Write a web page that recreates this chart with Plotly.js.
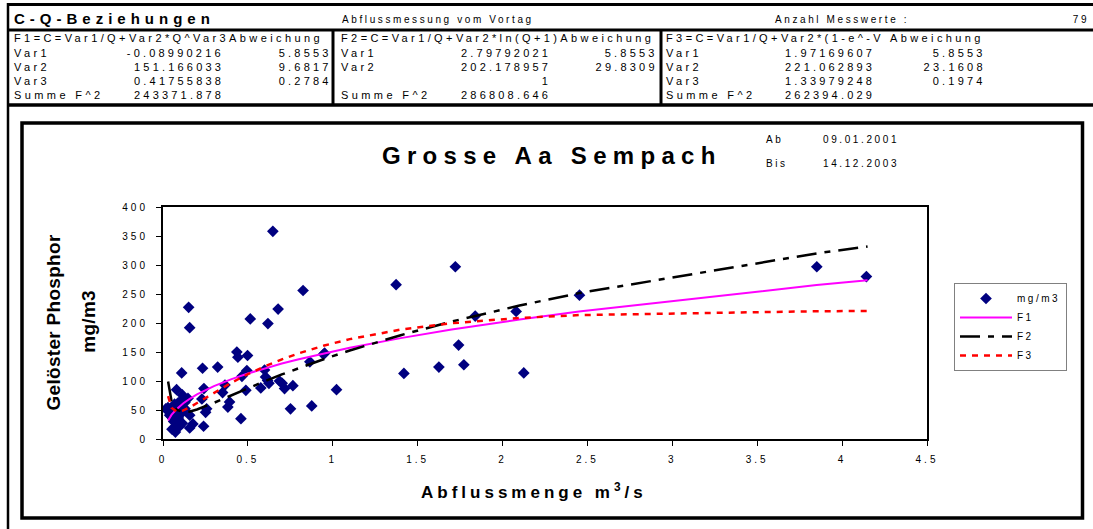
<!DOCTYPE html>
<html><head><meta charset="utf-8">
<script src="https://cdn.plot.ly/plotly-3.0.1.min.js"></script>
<style>
html,body{margin:0;padding:0;background:#fff;}
#chart{width:1093px;height:529px;}
#chart .xtick text,#chart .ytick text{letter-spacing:3px;}
.legendtext{letter-spacing:2.5px;}
</style>
</head><body><div id="chart"></div>
<script>
// ---------- data ----------
const qObs = [0.647,0.151,0.157,0.514,0.618,0.678,0.825,1.373,0.435,0.441,0.498,0.110,0.233,0.322,0.494,0.465,0.598,0.604,0.616,0.624,
  0.686,0.702,0.716,0.765,0.576,0.488,0.365,0.351,0.392,0.382,0.459,0.751,0.876,1.022,0.865,0.945,0.952,0.241,0.229,0.257,
  0.251,0.239,0.176,0.157,0.157,0.080,0.114,0.108,0.129,0.147,0.088,0.059,0.029,0.016,0.045,0.039,0.073,0.114,0.090,0.063,
  0.114,0.098,0.053,0.073,0.049,1.722,1.839,2.080,2.453,1.741,1.625,1.772,1.419,2.125,3.851,4.143,0.100,0.130,0.068];
const cObs = [358,227,192,207,199,224,256,266,150,141,144,114,122,124,118,108,119,107,101,96,
  100,96,87,92,88,84,93,80,64,55,35,52,57,85,133,146,148,87,69,52,
  46,22,26,19,41,85,76,67,63,70,62,55,54,52,47,41,46,46,36,30,
  27,22,17,12,39,297,212,220,248,162,124,128,113,114,297,280,58,52,60];

const qFit = [0.03,0.05,0.08,0.12,0.16,0.2,0.3,0.4,0.5,0.6,0.7,0.8,0.95,1.1,1.4,1.7,2.1,2.45,3.85,4.15];
const f1Fit = [32,41.5,51.5,61.6,69.8,76.8,91.1,102.9,113.0,122.0,130.1,137.6,147.9,157.2,173.9,188.6,206.0,219.8,265.4,273.9];
const f2Fit = [99,66,50.5,46.2,47.5,50.9,62.4,75.0,87.6,99.7,111.3,122.3,138.0,152.5,179.0,202.5,230.1,251.5,320.0,332.0];
const f3Fit = [74,54,47.1,49.3,55.0,61.8,79.7,96.6,111.9,125.4,137.3,147.8,161.2,172.2,188.6,199.6,208.7,213.6,220.3,220.7];

const seriesNames = ['mg/m3','F1','F2','F3'];
const chartTitle = 'Grosse Aa Sempach';
const xTitle = 'Abflussmenge m<sup>3</sup>/s';
const yTitle1 = 'Gelöster Phosphor';
const yTitle2 = 'mg/m3';
const headerTitle = 'C-Q-Beziehungen';
const headerSub = 'Abflussmessung vom Vortag';
const headerCountLabel = 'Anzahl Messwerte :';
const headerCount = '79';
const dateLabels = ['Ab','Bis'];
const dateValues = ['09.01.2001','14.12.2003'];

const fitHeads = ['F1=C=Var1/Q+Var2*Q^Var3Abweichung','F2=C=Var1/Q+Var2*ln(Q+1)Abweichung','F3=C=Var1/Q+Var2*(1-e^-V Abweichung'];
const rowLabels = [['Var1','Var2','Var3','Summe F^2'],['Var1','Var2','','Summe F^2'],['Var1','Var2','Var3','Summe F^2']];
const paramVals = [['-0.08990216','151.166033','0.41755838','243371.878'],
                   ['2.79792021','202.178957','1','286808.646'],
                   ['1.97169607','221.062893','1.33979248','262394.029']];
const devVals = [['5.8553','9.6817','0.2784',''],['5.8553','29.8309','',''],['5.8553','23.1608','0.1974','']];

// ---------- layout helpers ----------
const FONT = 'Liberation Sans, Arial, sans-serif';
const L = 163, R = 927, T = 207, B = 439;
const px = x => (x - L) / (R - L);
const py = y => (B - y) / (B - T);
const annotations = [], spacing = [], shapes = [];
function txt(text, x, y, size, o) {
  o = o || {};
  annotations.push({text: text, xref: 'paper', yref: 'paper', x: px(x), y: py(y),
    xanchor: o.anchor || 'left', yanchor: 'middle', align: o.anchor === 'right' ? 'right' : (o.anchor === 'center' ? 'center' : 'left'),
    showarrow: false, textangle: o.angle || 0, borderpad: 0,
    font: {family: FONT, size: size, color: '#000', weight: o.bold ? 'bold' : 'normal'}});
  spacing.push(o.ls || 0);
}
function line(x0, y0, x1, y1, w) {
  shapes.push({type: 'line', xref: 'paper', yref: 'paper', x0: px(x0), y0: py(y0), x1: px(x1), y1: py(y1),
    line: {color: '#000', width: w}});
}
function rect(x0, y0, x1, y1, w) {
  shapes.push({type: 'rect', xref: 'paper', yref: 'paper', x0: px(x0), y0: py(y0), x1: px(x1), y1: py(y1),
    line: {color: '#000', width: w}, fillcolor: 'rgba(0,0,0,0)'});
}

// header frame
line(7, 4.5, 1093, 4.5, 3);
line(7, 30, 1093, 30, 3);
line(7, 105, 1093, 105, 3.5);
line(8, 3, 8, 529, 2.5);
line(333, 30, 333, 105, 3);
line(661, 30, 661, 105, 3);
// chart frame
rect(22, 123, 1082.5, 518, 3.5);

// header text
txt(headerTitle, 13, 18.5, 15, {bold: true, ls: 5});
txt(headerSub, 341, 19, 10, {ls: 2.6});
txt(headerCountLabel, 774, 19, 10, {ls: 2.6});
txt(headerCount, 1091, 19, 10, {anchor: 'right', ls: 2.6});

const boxLabelX = [13, 340, 665];
const boxValR = [225, 552, 876];
const boxDevR = [333, 659, 987];
const rowY = [38, 52.5, 67, 81, 95];
for (let b = 0; b < 3; b++) {
  txt(fitHeads[b], boxLabelX[b], rowY[0], 11, {ls: 3.4});
  for (let r = 0; r < 4; r++) {
    if (rowLabels[b][r]) txt(rowLabels[b][r], boxLabelX[b], rowY[r + 1], 11, {ls: 3.4});
    if (paramVals[b][r]) txt(paramVals[b][r], boxValR[b], rowY[r + 1], 11, {anchor: 'right', ls: 3.2});
    if (devVals[b][r]) txt(devVals[b][r], boxDevR[b], rowY[r + 1], 11, {anchor: 'right', ls: 3.2});
  }
}

// chart texts
txt(chartTitle, 381, 155, 24, {bold: true, ls: 6.3});
txt(dateLabels[0], 765, 139, 10, {ls: 2.6});
txt(dateLabels[1], 765, 163, 10, {ls: 2.6});
txt(dateValues[0], 822, 139, 10, {ls: 2.6});
txt(dateValues[1], 822, 163, 10, {ls: 2.6});
txt(xTitle, 420, 491, 17, {bold: true, ls: 4});
txt(yTitle1, 53, 322, 19, {bold: true, anchor: 'center', angle: -90, ls: 0.3});
txt(yTitle2, 88, 322, 19, {bold: true, anchor: 'center', angle: -90, ls: 0.3});

// per-annotation letter spacing
let css = '';
spacing.forEach((s, i) => { if (s) css += '#chart .annotation[data-index="' + i + '"] text{letter-spacing:' + s + 'px;}\n'; });
const st = document.createElement('style'); st.textContent = css; document.head.appendChild(st);

// ---------- traces ----------
const traces = [
  {x: qObs, y: cObs, name: seriesNames[0], type: 'scatter', mode: 'markers',
   marker: {symbol: 'diamond', size: 9, color: '#000080', line: {width: 0}}},
  {x: qFit, y: f1Fit, name: seriesNames[1], type: 'scatter', mode: 'lines',
   line: {color: '#FF00FF', width: 2}},
  {x: qFit, y: f2Fit, name: seriesNames[2], type: 'scatter', mode: 'lines',
   line: {color: '#000000', width: 2.5, dash: '20px,8px,6px,8px'}},
  {x: qFit, y: f3Fit, name: seriesNames[3], type: 'scatter', mode: 'lines',
   line: {color: '#FF0000', width: 2.5, dash: '6px,6px'}}
];

const layout = {
  width: 1093, height: 529,
  margin: {l: L, r: 1093 - R, t: T, b: 529 - B, autoexpand: false},
  paper_bgcolor: '#fff', plot_bgcolor: '#fff',
  font: {family: FONT, size: 10, color: '#000'},
  showlegend: true,
  legend: {x: px(954), y: py(283), xanchor: 'left', yanchor: 'top',
    bordercolor: '#808080', borderwidth: 1, bgcolor: '#fff',
    font: {family: FONT, size: 10, color: '#000'}, itemwidth: 52, tracegroupgap: 0},
  xaxis: {range: [0, 4.5], dtick: 0.5, tick0: 0, showgrid: false, zeroline: false,
    showline: true, linecolor: '#000', linewidth: 2, mirror: true,
    ticks: 'outside', ticklen: 5, tickwidth: 1, tickcolor: '#000', ticklabelstandoff: 5,
    tickfont: {family: FONT, size: 10, color: '#000'}, fixedrange: true},
  yaxis: {range: [0, 400], dtick: 50, tick0: 0, showgrid: false, zeroline: false,
    showline: true, linecolor: '#000', linewidth: 2, mirror: true,
    ticks: 'outside', ticklen: 5, tickwidth: 1, tickcolor: '#000', ticklabelstandoff: 6,
    tickfont: {family: FONT, size: 10, color: '#000'}, fixedrange: true},
  annotations: annotations,
  shapes: shapes
};

Plotly.newPlot('chart', traces, layout, {displayModeBar: false, staticPlot: true});
</script></body></html>
